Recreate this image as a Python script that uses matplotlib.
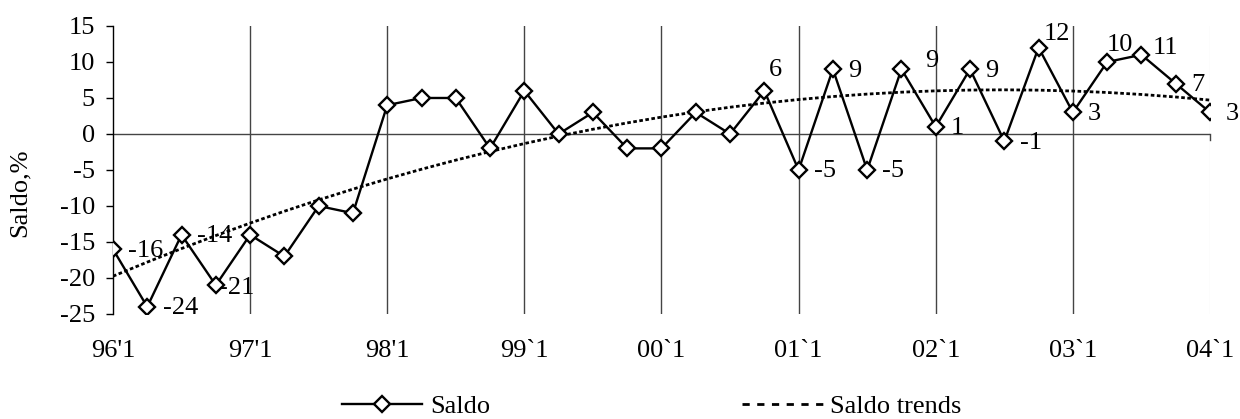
import numpy as np
import matplotlib
matplotlib.use("Agg")
import matplotlib.pyplot as plt
from matplotlib.lines import Line2D

plt.rcParams['font.family'] = ['Liberation Serif', 'DejaVu Serif']
plt.rcParams['axes.unicode_minus'] = False

# quarterly saldo, 96'1 .. 04'1
saldo = [-16, -24, -14, -21, -14, -17, -10, -11,
         4, 5, 5, -2, 6, 0, 3, -2,
         -2, 3, 0, 6, -5, 9, -5, 9,
         1, 9, -1, 12, 3, 10, 11, 7, 3]
year_labels = ["96'1", "97'1", "98'1", "99`1", "00`1", "01`1", "02`1", "03`1", "04`1"]
# which points carry a value label
labelled = [0, 1, 2, 3, 19, 20, 21, 22, 23, 24, 25, 26, 27, 28, 29, 30, 31, 32]

FS = 19

x = np.arange(len(saldo))
# polynomial trend line (as in the spreadsheet trendline)
coef = np.polyfit(x, saldo, 2)
trend = np.polyval(coef, x)

fig = plt.figure(figsize=(12.4, 4.19), dpi=100)
ax = fig.add_axes([0.0911, 0.2506, 0.8847, 0.6874])

ax.plot(x, trend, color='black', lw=2.0, ls=(0, (1.3, 0.9)), zorder=2)
ax.plot(x, saldo, color='black', lw=1.7, marker='D', ms=8.5,
        mfc='white', mec='black', mew=1.7, zorder=3)

# label offsets in points (dx, dy); default: to the right
special = {3: (2, -2), 19: (3, 15), 23: (17, 6), 27: (4, 10),
           29: (0, 12), 30: (8, 5)}
for i in labelled:
    dx, dy = special.get(i, (11, -1))
    ax.annotate(str(saldo[i]), (x[i], saldo[i]), xytext=(dx, dy),
                textcoords='offset points', ha='left', va='center',
                fontsize=FS, zorder=4)

ax.set_xlim(0, 32)
ax.set_ylim(-25, 15)
ax.set_yticks(range(-25, 16, 5))
ax.set_xticks(range(0, 33, 4))
ax.set_xticklabels(year_labels)
ax.tick_params(axis='x', length=0, pad=18.5, labelsize=FS)
ax.tick_params(axis='y', length=5, width=1, direction='out', labelsize=FS, pad=8)

for s in ['top', 'right', 'bottom']:
    ax.spines[s].set_visible(False)
ax.spines['left'].set_linewidth(1)

for xv in range(4, 32, 4):
    ax.axvline(xv, color='#444444', lw=1, zorder=1)
ax.axvline(32, color='#f2f2f2', lw=1, zorder=0)
ax.axhline(0, color='#444444', lw=1, zorder=1)
ax.plot([32, 32], [0, -0.8], color='#444444', lw=1, clip_on=False)

ax.set_ylabel('Saldo,%', fontsize=FS)
ax.yaxis.set_label_coords(-0.075, 0.42)

h1 = Line2D([], [], color='black', lw=1.7, marker='D', ms=8.5,
            mfc='white', mec='black', mew=1.7)
h2 = Line2D([], [], color='black', lw=2.0, ls=(0, (2.6, 2.7)))
fig.legend([h1], ['Saldo'], loc='center left', bbox_to_anchor=(0.276, 0.031),
           frameon=False, fontsize=FS, handlelength=3.03, handletextpad=0.3,
           borderpad=0, borderaxespad=0)
fig.legend([h2], ['Saldo trends'], loc='center left', bbox_to_anchor=(0.598, 0.031),
           frameon=False, fontsize=FS, handlelength=3.15, handletextpad=0.19,
           borderpad=0, borderaxespad=0)

fig.savefig('out.png', dpi=100)
